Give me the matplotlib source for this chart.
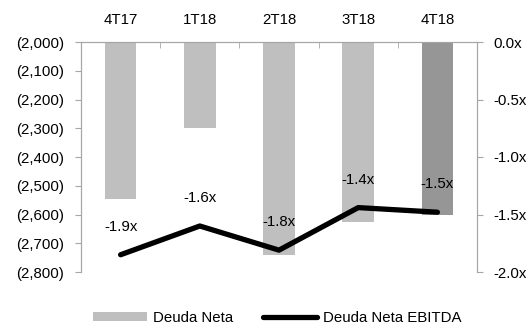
import matplotlib
matplotlib.use("Agg")
import matplotlib.pyplot as plt
import numpy as np
from matplotlib.ticker import FuncFormatter, FixedLocator

plt.rcParams['font.family'] = ['Liberation Sans', 'DejaVu Sans']

quarters = ["4T17", "1T18", "2T18", "3T18", "4T18"]
deuda_neta = [-2545, -2300, -2740, -2625, -2600]
deuda_ebitda = [-1.85, -1.60, -1.81, -1.44, -1.48]
bar_colors = ["#BFBFBF", "#BFBFBF", "#BFBFBF", "#BFBFBF", "#969696"]
left_ticks = [-2000, -2100, -2200, -2300, -2400, -2500, -2600, -2700, -2800]
right_ticks = [0.0, -0.5, -1.0, -1.5, -2.0]

FS = 10.8

fig = plt.figure(figsize=(5.26, 3.26), dpi=100)
ax = fig.add_axes([81 / 526, 1 - 272 / 326, 396 / 526, 230 / 326])
ax2 = ax.twinx()

x = np.arange(len(quarters))
base = -2000
ax.bar(x, [v - base for v in deuda_neta], bottom=base, width=0.4,
       color=bar_colors, zorder=2, label="Deuda Neta")
ax.set_xlim(-0.5, len(quarters) - 0.5)
ax.set_ylim(-2800, -2000)
ax.yaxis.set_major_locator(FixedLocator(left_ticks))
ax.yaxis.set_major_formatter(FuncFormatter(lambda v, p: f"({abs(v):,.0f})"))

ax2.plot(x, deuda_ebitda, color="black", lw=3.8, solid_capstyle="round",
         zorder=3, label="Deuda Neta EBITDA")
ax2.set_ylim(-2.0, 0.0)
ax2.yaxis.set_major_locator(FixedLocator(right_ticks))
ax2.yaxis.set_major_formatter(FuncFormatter(lambda v, p: f"{v:.1f}x"))
for xi, v in zip(x, deuda_ebitda):
    ax2.annotate(f"{v:.1f}x", (xi, v), xytext=(0, 20), textcoords="offset points",
                 ha="center", va="center", fontsize=FS, color="black")

spine_c = "#A6A6A6"
for a in (ax, ax2):
    for s in a.spines.values():
        s.set_color(spine_c)
    a.spines["bottom"].set_visible(False)

ax.xaxis.tick_top()
ax.set_xticks(x)
ax.set_xticklabels(quarters, fontsize=FS)
ax.tick_params(axis="x", which="major", length=0, pad=11)
ax.set_xticks(np.arange(0.5, len(quarters) - 0.5, 1), minor=True)
ax.tick_params(axis="x", which="minor", direction="in", length=4, color=spine_c, top=True, bottom=False)
ax.tick_params(axis="y", direction="out", length=4, color=spine_c, labelsize=FS, pad=8)
ax2.tick_params(axis="y", direction="out", length=4, color=spine_c, labelsize=FS, pad=8)

h1, l1 = ax.get_legend_handles_labels()
h2, l2 = ax2.get_legend_handles_labels()
fig.legend(h1 + h2, l1 + l2, loc="center", bbox_to_anchor=(277 / 526, 1 - 318 / 326),
           ncol=2, frameon=False, fontsize=FS, handlelength=3.6,
           handleheight=0.6, columnspacing=2.0, handletextpad=0.4)

fig.savefig("out.png", dpi=100)
